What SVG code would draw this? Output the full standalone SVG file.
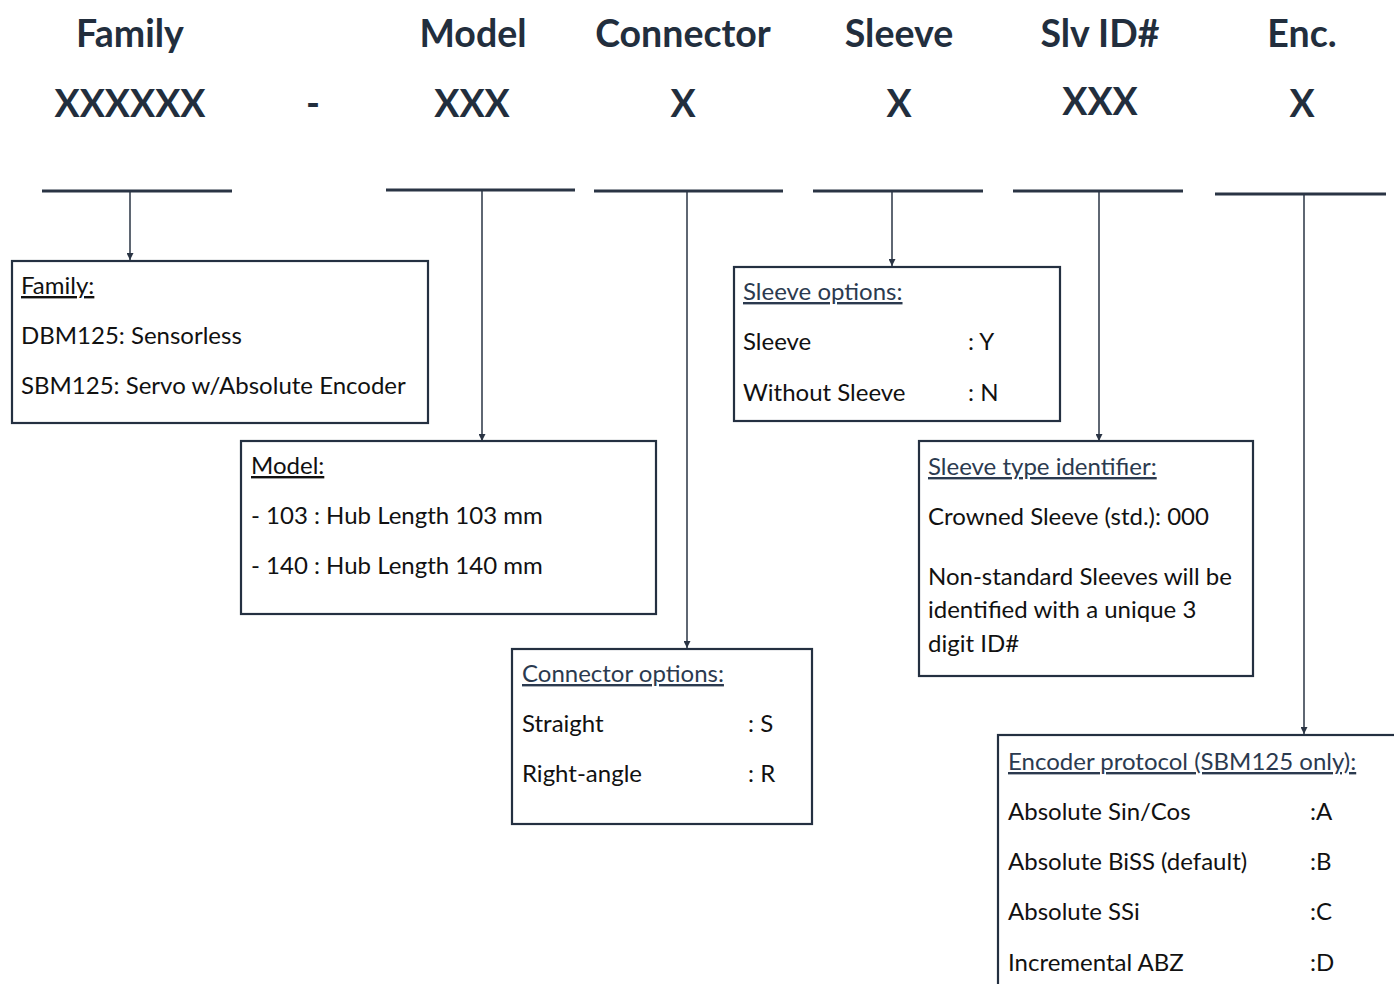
<svg xmlns="http://www.w3.org/2000/svg" width="1394" height="984" viewBox="0 0 1394 984">
<defs>
<marker id="arr" viewBox="0 0 10 10" refX="10" refY="5" markerWidth="7" markerHeight="7" markerUnits="userSpaceOnUse" orient="auto">
<path d="M0,0 L10,5 L0,10 z" fill="#2a3444"/>
</marker>
<style>
.hd{font-family:Lato,"Open Sans",sans-serif;font-weight:bold;font-size:37.5px;fill:#222e3d;text-anchor:middle}
.code{font-family:Lato,"Open Sans",sans-serif;font-weight:bold;font-size:37.5px;fill:#222e3d;text-anchor:middle}
.bar{stroke:#2a3444;stroke-width:3;fill:none}
.conn{stroke:#2a3444;stroke-width:1.5;fill:none;marker-end:url(#arr)}
.box{fill:#fff;stroke:#243041;stroke-width:2.2}
.t{font-family:Lato,"Open Sans",sans-serif;font-size:24px;fill:#111}
.u{text-decoration:underline}
.nv{fill:#2b3a4f}
</style>
</defs>
<rect width="1394" height="984" fill="#fff"/>

<g id="headers">
<text class="hd" x="130" y="47">Family</text>
<text class="hd" x="473" y="47">Model</text>
<text class="hd" x="683" y="47">Connector</text>
<text class="hd" x="899" y="47">Sleeve</text>
<text class="hd" x="1100" y="47">Slv ID#</text>
<text class="hd" x="1302" y="47">Enc.</text>
<text class="code" x="130" y="117">XXXXXX</text>
<text class="code" x="313" y="117">-</text>
<text class="code" x="472" y="117">XXX</text>
<text class="code" x="683" y="117">X</text>
<text class="code" x="899" y="117">X</text>
<text class="code" x="1100" y="115">XXX</text>
<text class="code" x="1302" y="117">X</text>
</g>

<g id="bars">
<line class="bar" x1="42" y1="191" x2="232" y2="191"/>
<line class="bar" x1="386" y1="190" x2="575" y2="190"/>
<line class="bar" x1="594" y1="191" x2="783" y2="191"/>
<line class="bar" x1="813" y1="191" x2="983" y2="191"/>
<line class="bar" x1="1013" y1="191" x2="1183" y2="191"/>
<line class="bar" x1="1215" y1="194" x2="1386" y2="194"/>
</g>

<g id="connectors">
<line class="conn" x1="130" y1="191" x2="130" y2="260"/>
<line class="conn" x1="482" y1="190" x2="482" y2="441"/>
<line class="conn" x1="687" y1="191" x2="687" y2="648"/>
<line class="conn" x1="892" y1="191" x2="892" y2="266"/>
<line class="conn" x1="1099" y1="191" x2="1099" y2="441"/>
<line class="conn" x1="1304" y1="194" x2="1304" y2="734"/>
</g>

<g id="family">
<rect class="box" x="12" y="261" width="416" height="162"/>
<text class="t u" x="21" y="294">Family:</text>
<text class="t" x="21" y="344">DBM125: Sensorless</text>
<text class="t" x="21" y="394">SBM125: Servo w/Absolute Encoder</text>
</g>

<g id="model">
<rect class="box" x="241" y="441" width="415" height="173"/>
<text class="t u" x="251" y="474">Model:</text>
<text class="t" x="251" y="524">- 103 : Hub Length 103 mm</text>
<text class="t" x="251" y="574">- 140 : Hub Length 140 mm</text>
</g>

<g id="connector">
<rect class="box" x="512" y="649" width="300" height="175"/>
<text class="t u nv" x="522" y="682">Connector options:</text>
<text class="t" x="522" y="732">Straight</text>
<text class="t" x="748" y="732">: S</text>
<text class="t" x="522" y="782">Right-angle</text>
<text class="t" x="748" y="782">: R</text>
</g>

<g id="sleeve">
<rect class="box" x="734" y="267" width="326" height="154"/>
<text class="t u nv" x="743" y="300">Sleeve options:</text>
<text class="t" x="743" y="350">Sleeve</text>
<text class="t" x="968" y="350">: Y</text>
<text class="t" x="743" y="401">Without Sleeve</text>
<text class="t" x="968" y="401">: N</text>
</g>

<g id="slvid">
<rect class="box" x="919" y="441" width="334" height="235"/>
<text class="t u nv" x="928" y="475">Sleeve type identifier:</text>
<text class="t" x="928" y="525">Crowned Sleeve (std.): 000</text>
<text class="t" x="928" y="585">Non-standard Sleeves will be</text>
<text class="t" x="928" y="618">identified with a unique 3</text>
<text class="t" x="928" y="652">digit ID#</text>
</g>

<g id="encoder">
<rect class="box" x="998" y="735" width="420" height="300"/>
<text class="t u nv" x="1008" y="770">Encoder protocol (SBM125 only):</text>
<text class="t" x="1008" y="820">Absolute Sin/Cos</text>
<text class="t" x="1310" y="820">:A</text>
<text class="t" x="1008" y="870">Absolute BiSS (default)</text>
<text class="t" x="1310" y="870">:B</text>
<text class="t" x="1008" y="920">Absolute SSi</text>
<text class="t" x="1310" y="920">:C</text>
<text class="t" x="1008" y="971">Incremental ABZ</text>
<text class="t" x="1310" y="971">:D</text>
</g>
</svg>
